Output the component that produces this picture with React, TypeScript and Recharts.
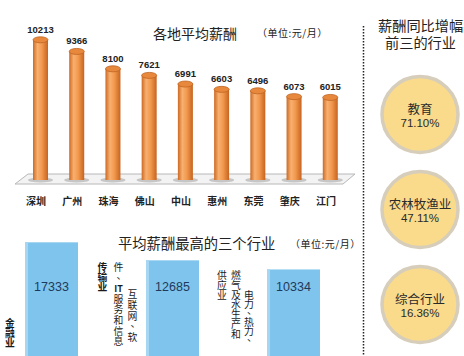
import React from 'react';
import { Bar, BarChart, LabelList, Scatter, ScatterChart, XAxis, YAxis } from 'recharts';

const CITIES = ['深圳', '广州', '珠海', '佛山', '中山', '惠州', '东莞', '肇庆', '江门'];
const CITY_SALARY = [10213, 9366, 8100, 7621, 6991, 6603, 6496, 6073, 6015];

const TOP_INDUSTRIES = ['金融业', '互联网、软件、IT服务和信息传输业', '电力、热力、燃气及水生产和供应业'];
const TOP_INDUSTRY_SALARY = [17333, 12685, 10334];

const GROWTH_INDUSTRIES = ['教育', '农林牧渔业', '综合行业'];
const GROWTH_RATES = [71.1, 47.11, 16.36];

// the lower chart is cut off, bars start below zero
const INDUSTRY_DOMAIN = [-12000, 20000];
const LOWER_TOP = 232;

const cityData = CITIES.map((name, i) => ({ name, salary: CITY_SALARY[i] }));
const industryData = TOP_INDUSTRIES.map((name, i) => ({ name, salary: TOP_INDUSTRY_SALARY[i] }));
const growthData = GROWTH_INDUSTRIES.map((name, i) => ({ name, growth: GROWTH_RATES[i], rank: i + 1 }));

const CJK = '"Noto Sans CJK SC", "Noto Sans", sans-serif';
const LATIN = '"Liberation Sans", Arial, sans-serif';

// how the long industry names break into vertical columns (top = page y of first char)
const LABEL_COLUMNS = [
  [{ len: 3, dx: -15, top: 323, pitch: 10.2, bold: true }],
  [
    { len: 5, dx: -13.5, top: 294, pitch: 10.8 },
    { len: 9, dx: -27.5, top: 267, pitch: 10.6 },
    { len: 3, dx: -43.5, top: 267, pitch: 10.2, bold: true },
  ],
  [
    { len: 6, dx: -18, top: 295, pitch: 9 },
    { len: 7, dx: -31, top: 275, pitch: 9.8 },
    { len: 3, dx: -45, top: 275, pitch: 9.8 },
  ],
];

function Cylinder(props: any) {
  const { x, y, width, height } = props;
  const rx = width / 2;
  return (
    <g>
      <ellipse cx={x + rx} cy={y + height} rx={rx + 5} ry={2.5} fill="#9a9a9a" opacity={0.5} />
      <rect x={x} y={y} width={width} height={height} fill="url(#cylFill)" />
      <ellipse cx={x + rx} cy={y} rx={rx} ry={3} fill="#E8883C" stroke="#BE6422" strokeWidth={0.8} />
    </g>
  );
}

function CityTick(props: any) {
  const { x, y, payload } = props;
  return (
    <text x={x - 4} y={y} dy={12} textAnchor="middle" dominantBaseline="central"
      fontSize={10} fontWeight="bold" fontFamily={CJK} fill="#222">
      {payload.value}
    </text>
  );
}

function IndustryBar(props: any) {
  const { x, y, width, height, payload } = props;
  const idx = TOP_INDUSTRIES.indexOf(payload.name);
  const cols = LABEL_COLUMNS[idx] || [];
  let start = 0;
  return (
    <g>
      <rect x={x} y={y} width={width} height={height} fill="#7FC4EC" />
      <rect x={x} y={y} width={3} height={height} fill="#A6D6F2" />
      <text x={x + width / 2} y={y + height - 69} textAnchor="middle" dominantBaseline="central"
        fontSize={12.5} fontFamily={LATIN} fill="#1e3a5c">
        {payload.salary}
      </text>
      {cols.map((c, ci) => {
        const part = payload.name.slice(start, start + c.len);
        start += c.len;
        const tokens: string[] = part.match(/[A-Za-z0-9]+|./g) || [];
        return tokens.map((t, ti) => {
          const comma = t === '、';
          const latin = /[A-Za-z]/.test(t);
          return (
            <text key={ci + '-' + ti} x={x + c.dx + (comma ? 3 : 0)}
              y={c.top - LOWER_TOP + ti * c.pitch - (comma ? 3 : 0)}
              textAnchor="middle" dominantBaseline="central" fontSize={latin ? 9 : 9.8}
              fontWeight={c.bold || latin ? 'bold' : 'normal'} fontFamily={CJK} fill="#1a1a1a">
              {t}
            </text>
          );
        });
      })}
    </g>
  );
}

function Bubble(props: any) {
  const { cx, cy, payload } = props;
  return (
    <g>
      <circle cx={cx} cy={cy} r={38} fill="#FADB8C" stroke="#D6CDBA" strokeWidth={3.5} />
      <text x={cx} y={cy - 6} textAnchor="middle" dominantBaseline="central" fontSize={12.5}
        fontFamily={CJK} fill="#2a2a2a">
        {payload.name}
      </text>
      <text x={cx} y={cy + 8} textAnchor="middle" dominantBaseline="central" fontSize={11.5}
        fontFamily={LATIN} fill="#2a2a2a">
        {payload.growth.toFixed(2)}%
      </text>
    </g>
  );
}

const abs = (left: number, top: number, extra: React.CSSProperties = {}): React.CSSProperties => ({
  position: 'absolute', left, top, whiteSpace: 'nowrap', lineHeight: 1, fontFamily: CJK, color: '#222', ...extra,
});

export default function App() {
  return (
    <div style={{ position: 'absolute', left: 0, top: 0, width: 464, height: 356, overflow: 'hidden', background: '#fff' }}>
      <svg width={464} height={356} style={{ position: 'absolute', left: 0, top: 0 }}>
        <defs>
          <linearGradient id="cylFill" x1="0" y1="0" x2="1" y2="0">
            <stop offset="0%" stopColor="#CC6A24" />
            <stop offset="30%" stopColor="#F8B070" />
            <stop offset="60%" stopColor="#F2984D" />
            <stop offset="100%" stopColor="#C6641F" />
          </linearGradient>
        </defs>
        <polygon points="15,184 28,174 355,174 343,184" fill="#f3f3f3" stroke="#b8b8b8" strokeWidth={1} />
        <line x1={363.5} y1={26} x2={363.5} y2={356} stroke="#222" strokeWidth={1.5} strokeDasharray="1.5 1.5" />
      </svg>

      <div style={{ position: 'absolute', left: 0, top: 0 }}>
        <BarChart width={364} height={210} data={cityData} margin={{ top: 29, right: 16, left: 22, bottom: 0 }}>
          <XAxis dataKey="name" height={30} axisLine={false} tickLine={false} tick={<CityTick />} interval={0} />
          <YAxis hide domain={[0, 11000]} />
          <Bar dataKey="salary" barSize={15} shape={<Cylinder />} isAnimationActive={false}>
            <LabelList dataKey="salary" position="top" offset={7} fontSize={9.5} fontWeight="bold"
              fontFamily={LATIN} fill="#222" />
          </Bar>
        </BarChart>
      </div>

      <div style={{ position: 'absolute', left: -9, top: LOWER_TOP }}>
        <BarChart width={363} height={124} data={industryData} margin={{ top: 0, right: 0, left: 0, bottom: 0 }}
          style={{ overflow: 'visible' }}>
          <XAxis dataKey="name" hide />
          <YAxis hide domain={INDUSTRY_DOMAIN} allowDataOverflow />
          <Bar dataKey={(d: any) => [INDUSTRY_DOMAIN[0], d.salary]} barSize={53} shape={<IndustryBar />}
            isAnimationActive={false} />
        </BarChart>
      </div>

      <div style={{ position: 'absolute', left: 370, top: 0 }}>
        <ScatterChart width={100} height={356} margin={{ top: 67, right: 0, left: 0, bottom: 4 }}>
          <XAxis type="number" dataKey={() => 0} domain={[-1, 1]} hide />
          <YAxis type="number" dataKey="rank" domain={[0.5, 3.5]} reversed hide />
          <Scatter data={growthData} shape={<Bubble />} isAnimationActive={false} />
        </ScatterChart>
      </div>

      <div style={abs(153, 26, { fontSize: 14 })}>各地平均薪酬</div>
      <div style={abs(257, 28, { fontSize: 10, letterSpacing: 0.5 })}>（单位:元/月）</div>
      <div style={abs(378, 18, { fontSize: 14.2 })}>薪酬同比增幅</div>
      <div style={abs(385, 35, { fontSize: 14.2 })}>前三的行业</div>
      <div style={abs(118, 236, { fontSize: 14.3 })}>平均薪酬最高的三个行业</div>
      <div style={abs(290, 239, { fontSize: 10, letterSpacing: 0.5 })}>（单位:元/月）</div>
    </div>
  );
}
